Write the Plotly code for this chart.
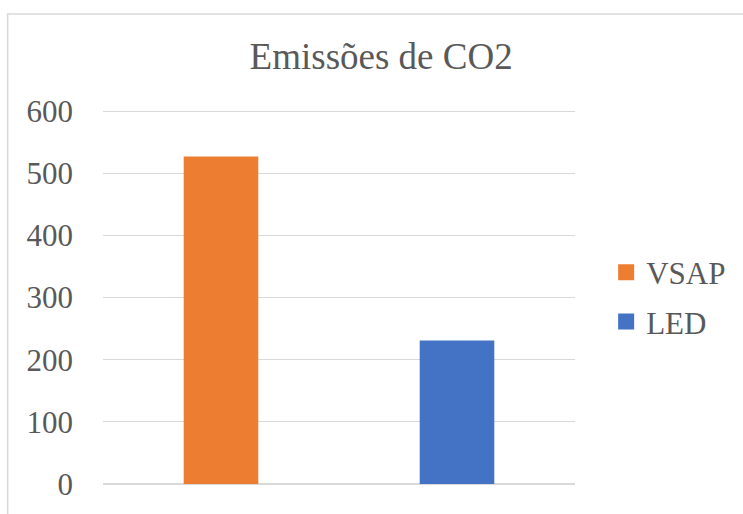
import plotly.graph_objects as go

categories = ["VSAP", "LED"]
values = [527, 231]
colors = ["#ED7D31", "#4472C4"]
y_ticks = [0, 100, 200, 300, 400, 500, 600]

fig = go.Figure()
for cat, val, col in zip(categories, values, colors):
    fig.add_trace(go.Bar(
        x=[cat], y=[val], name=cat, marker_color=col,
        marker_line_width=0, width=0.316, offsetgroup="a",
        showlegend=False,
    ))
# legend entries (square markers like the reference)
for cat, col in zip(categories, colors):
    fig.add_trace(go.Scatter(
        x=[None], y=[None], mode="markers", name=cat, legendgroup=cat,
        marker=dict(symbol="square", size=16, color=col),
    ))

font_family = "Liberation Serif, Times New Roman, serif"
fig.update_layout(
    width=743, height=514,
    margin=dict(l=103, r=165, t=110, b=26),
    paper_bgcolor="white", plot_bgcolor="white",
    barmode="overlay",
    title=dict(text="Emissões de CO2", x=0.513, xanchor="center",
               y=1 - 56 / 514, yanchor="middle",
               font=dict(family=font_family, size=37, color="#595959")),
    font=dict(family=font_family, color="#595959"),
    showlegend=True,
    legend=dict(x=1.066, xanchor="left", y=0.5, yanchor="middle",
                font=dict(family=font_family, size=31, color="#595959"),
                tracegroupgap=6, bgcolor="rgba(0,0,0,0)"),
    xaxis=dict(showticklabels=False, showgrid=False, zeroline=False,
               showline=False, categoryorder="array", categoryarray=categories),
    yaxis=dict(range=[0, 602], tickvals=y_ticks, showgrid=True,
               gridcolor="#d9d9d9", gridwidth=1.3, zeroline=True,
               zerolinecolor="#d9d9d9", zerolinewidth=1.8, showline=False,
               tickfont=dict(family=font_family, size=31, color="#595959"),
               ticklabelstandoff=29),
)

fig.add_shape(type="rect", xref="paper", yref="paper",
              x0=(7 - 103) / 475, x1=1.5, y0=-0.2, y1=(488 - 13) / 378,
              line=dict(color="#d9d9d9", width=1.5), fillcolor="rgba(0,0,0,0)",
              layer="below")

fig.write_html(
    "out.html", config={"displayModeBar": False},
    post_script=("document.documentElement.style.margin='0px';"
                 "document.body.style.margin='0px';"
                 "document.body.style.overflow='hidden';"
                 "document.documentElement.style.overflow='hidden';"),
)
